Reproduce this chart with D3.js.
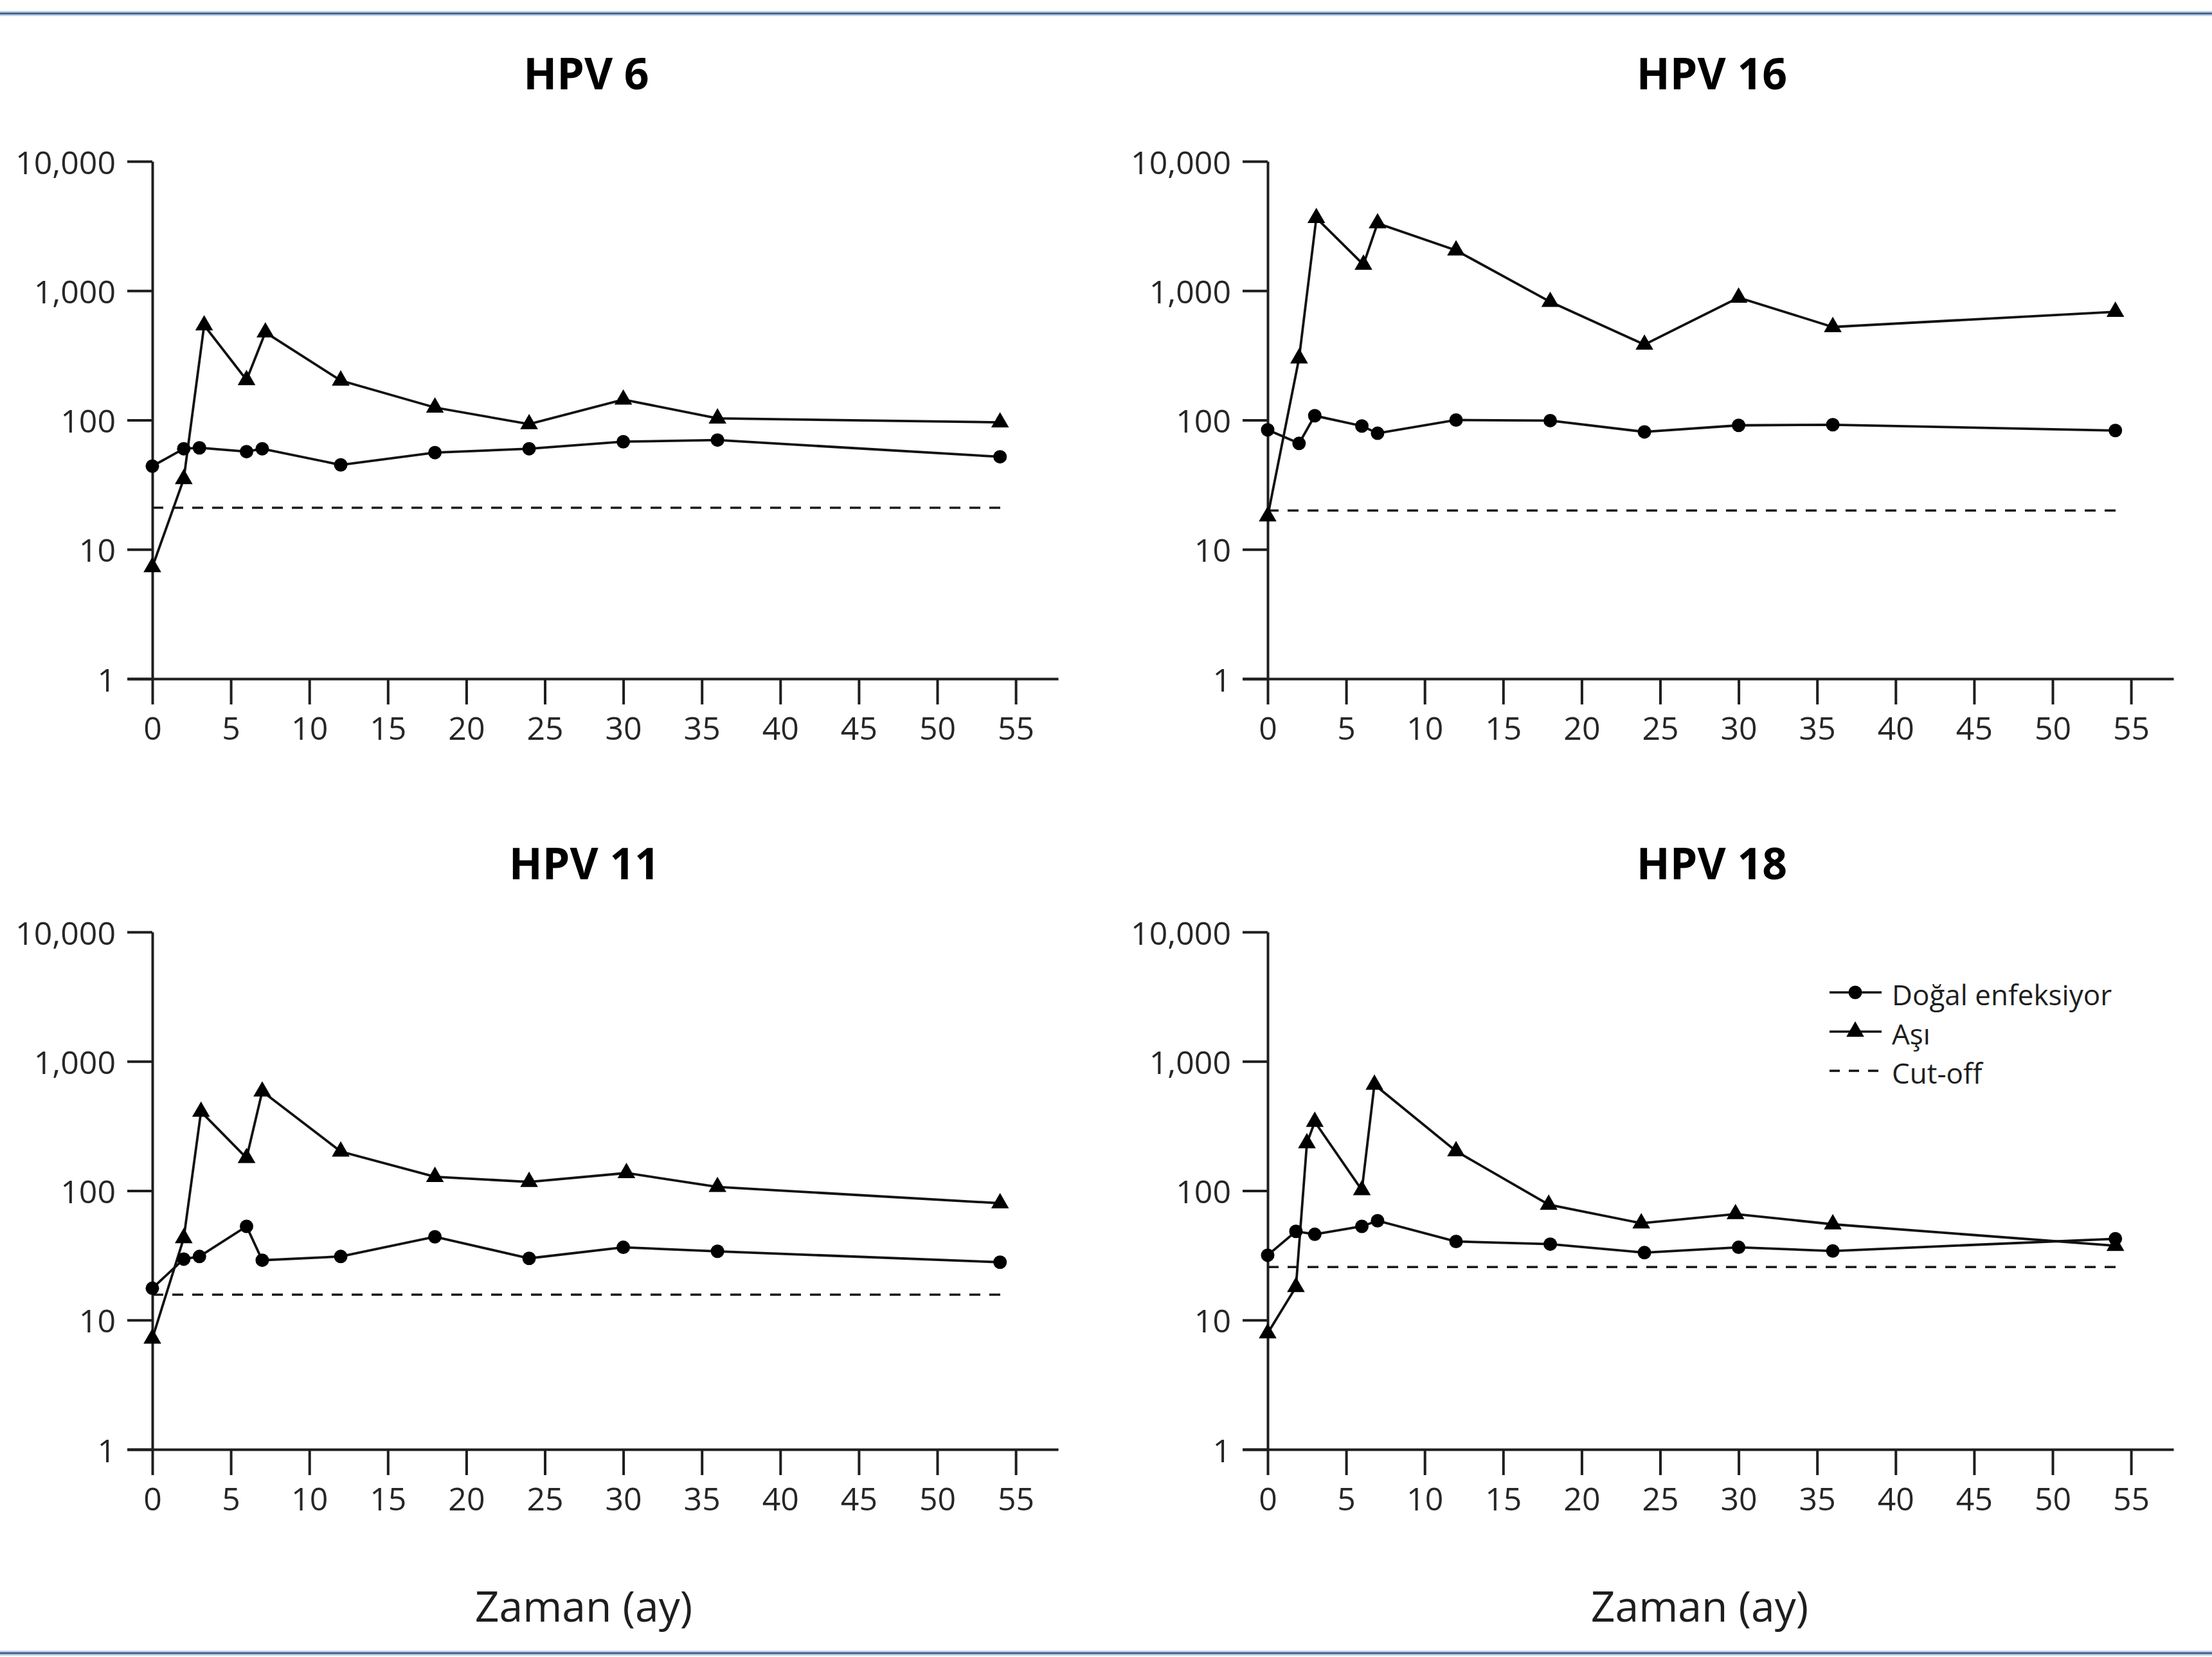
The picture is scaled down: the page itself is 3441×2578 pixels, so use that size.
<!DOCTYPE html>
<html>
<head>
<meta charset="utf-8">
<script src="https://cdnjs.cloudflare.com/ajax/libs/d3/7.8.5/d3.min.js"></script>
<style>
  body { margin: 0; background: #fff; }
  svg { display: block; }
  text { font-family: "Open Sans", "Noto Sans", sans-serif; }
</style>
</head>
<body>
<div class="chart"></div>
<script>
// values
const xTicks = [0, 5, 10, 15, 20, 25, 30, 35, 40, 45, 50, 55]
const yTicks = [1, 10, 100, 1000, 10000]
const seriesNames = ["Doğal enfeksiyor", "Aşı", "Cut-off"]

// HPV 6
const dogal6Months = [0, 2, 3, 6, 7, 12, 18, 24, 30, 36, 54]
const dogal6 = [44, 60, 61, 57, 60, 45, 56, 60, 68, 70, 52]
const asi6Months = [0, 2, 3.3, 6, 7.2, 12, 18, 24, 30, 36, 54]
const asi6 = [7.3, 35, 540, 204, 476, 202, 125, 93, 144, 103, 96]

// HPV 16
const dogal16Months = [0, 2, 3, 6, 7, 12, 18, 24, 30, 36, 54]
const dogal16 = [84, 66, 108, 90, 79, 100, 99, 81, 91, 92, 83]
const asi16Months = [0, 2, 3.1, 6.1, 7, 12, 18, 24, 30, 36, 54]
const asi16 = [18, 300, 3650, 1590, 3320, 2050, 820, 383, 885, 524, 687]

// HPV 11
const dogal11Months = [0, 2, 3, 6, 7, 12, 18, 24, 30, 36, 54]
const dogal11 = [17.6, 29.6, 31, 53, 29, 31, 44, 30, 36.5, 34, 28]
const asi11Months = [0, 2, 3.1, 6, 7, 12, 18, 24, 30.2, 36, 54]
const asi11 = [7.2, 43, 408, 179, 585, 201, 128, 117, 137, 107, 80]

// HPV 18
const dogal18Months = [0, 1.8, 3, 6, 7, 12, 18, 24, 30, 36, 54]
const dogal18 = [31.7, 48.5, 46, 53, 58.6, 40.5, 38.6, 33.2, 36.5, 34.2, 42.5]
const asi18Months = [0, 1.8, 2.5, 3, 6, 6.8, 12, 17.9, 23.8, 29.8, 36, 54]
const asi18 = [7.9, 18, 233, 341, 101, 661, 202, 78, 56, 66, 55, 37.5]

const cutoffs = [21, 20, 15.7, 25.7]   // HPV 6, 16, 11, 18
const cutoffRange = [0, 54.5]

;(function() {
    const width = 3441
    const height = 2578
    const pxPerMonth = 24.42

    const svg = d3.select(".chart")
        .append("svg")
        .attr("width", width)
        .attr("height", height)
        .attr("viewBox", `0 0 ${width} ${height}`)

    // blue frame lines top and bottom
    ;[21, 2572].forEach(yy => {
        svg.append("line").attr("x1", 0).attr("x2", width).attr("y1", yy).attr("y2", yy)
            .attr("stroke", "#c6d6ea").attr("stroke-width", 8)
        svg.append("line").attr("x1", 0).attr("x2", width).attr("y1", yy).attr("y2", yy)
            .attr("stroke", "#44608a").attr("stroke-width", 3)
    })

    const zip = (a, b) => a.map((m, i) => [m, b[i]])

    const panels = [
        { title: "HPV 6", dogal: zip(dogal6Months, dogal6), asi: zip(asi6Months, asi6), cut: cutoffs[0],
          x0: 237, top: 251, bottom: 1056, titleX: 912, titleY: 139 },
        { title: "HPV 16", dogal: zip(dogal16Months, dogal16), asi: zip(asi16Months, asi16), cut: cutoffs[1],
          x0: 1972, top: 251, bottom: 1056, titleX: 2663, titleY: 139 },
        { title: "HPV 11", dogal: zip(dogal11Months, dogal11), asi: zip(asi11Months, asi11), cut: cutoffs[2],
          x0: 237, top: 1450, bottom: 2255, titleX: 909, titleY: 1368, xLabel: 908 },
        { title: "HPV 18", dogal: zip(dogal18Months, dogal18), asi: zip(asi18Months, asi18), cut: cutoffs[3],
          x0: 1972, top: 1450, bottom: 2255, titleX: 2663, titleY: 1368, xLabel: 2644, legend: true }
    ]

    const tri = d3.symbol().type(d3.symbolTriangle).size(330)

    panels.forEach(p => {
        const x = d3.scaleLinear()
            .domain([-1.6, 57.7])
            .range([p.x0 - 1.6 * pxPerMonth, p.x0 + 57.7 * pxPerMonth])
        const y = d3.scaleLog()
            .domain([1, 10000])
            .range([p.bottom, p.top])

        const g = svg.append("g")

        g.append("text")
            .attr("x", p.titleX)
            .attr("y", p.titleY)
            .attr("text-anchor", "middle")
            .attr("font-size", 68)
            .attr("font-weight", 700)
            .attr("fill", "#000")
            .text(p.title)

        const yAxis = g.append("g")
            .attr("transform", `translate(${x(0)},0)`)
            .call(d3.axisLeft(y).tickValues(yTicks).tickFormat(d3.format(","))
                .tickSize(39).tickSizeOuter(0).tickPadding(18))
        const xAxis = g.append("g")
            .attr("transform", `translate(0,${p.bottom})`)
            .call(d3.axisBottom(x).tickValues(xTicks)
                .tickSize(40).tickSizeOuter(0).tickPadding(19))

        ;[yAxis, xAxis].forEach(a => {
            a.select(".domain").attr("stroke", "#1e1e1e").attr("stroke-width", 4)
            a.selectAll(".tick line").attr("stroke", "#1e1e1e").attr("stroke-width", 4)
            a.selectAll(".tick text")
                .attr("font-size", 50)
                .attr("fill", "#262626")
                .style("font-family", '"Open Sans", sans-serif')
        })
        yAxis.selectAll(".tick text").attr("dy", "0.38em")

        // cut-off
        g.append("line")
            .attr("x1", x(cutoffRange[0]))
            .attr("x2", x(cutoffRange[1]))
            .attr("y1", y(p.cut))
            .attr("y2", y(p.cut))
            .attr("stroke", "#1a1a1a")
            .attr("stroke-width", 3.5)
            .attr("stroke-dasharray", "17,14")

        const line = d3.line().x(d => x(d[0])).y(d => y(d[1]))

        ;[p.dogal, p.asi].forEach(s => {
            g.append("path")
                .attr("d", line(s))
                .attr("fill", "none")
                .attr("stroke", "#111")
                .attr("stroke-width", 3.8)
        })

        g.selectAll(".dot")
            .data(p.dogal)
            .join("circle")
            .attr("cx", d => x(d[0]))
            .attr("cy", d => y(d[1]))
            .attr("r", 10.5)
            .attr("fill", "#000")

        g.selectAll(".tri")
            .data(p.asi)
            .join("path")
            .attr("d", tri)
            .attr("transform", d => `translate(${x(d[0])},${y(d[1])})`)
            .attr("fill", "#000")

        if (p.xLabel) {
            g.append("text")
                .attr("x", p.xLabel)
                .attr("y", 2523)
                .attr("text-anchor", "middle")
                .attr("font-size", 66)
                .attr("fill", "#1e1e1e")
                .text("Zaman (ay)")
        }

        if (p.legend) {
            const lg = g.append("g").attr("transform", "translate(2846,1544)")
            seriesNames.forEach((name, i) => {
                const row = lg.append("g").attr("transform", `translate(0,${i * 61})`)
                row.append("line")
                    .attr("x1", 0).attr("x2", 81)
                    .attr("stroke", "#111")
                    .attr("stroke-width", 3.5)
                    .attr("stroke-dasharray", i === 2 ? "16,14" : null)
                if (i === 0) row.append("circle").attr("cx", 40).attr("r", 10.5).attr("fill", "#000")
                if (i === 1) row.append("path").attr("d", tri).attr("transform", "translate(40,0)").attr("fill", "#000")
                row.append("text")
                    .attr("x", 97)
                    .attr("y", 20)
                    .attr("font-size", 44)
                    .attr("fill", "#1e1e1e")
                    .text(name)
            })
        }
    })
}())
</script>
</body>
</html>
